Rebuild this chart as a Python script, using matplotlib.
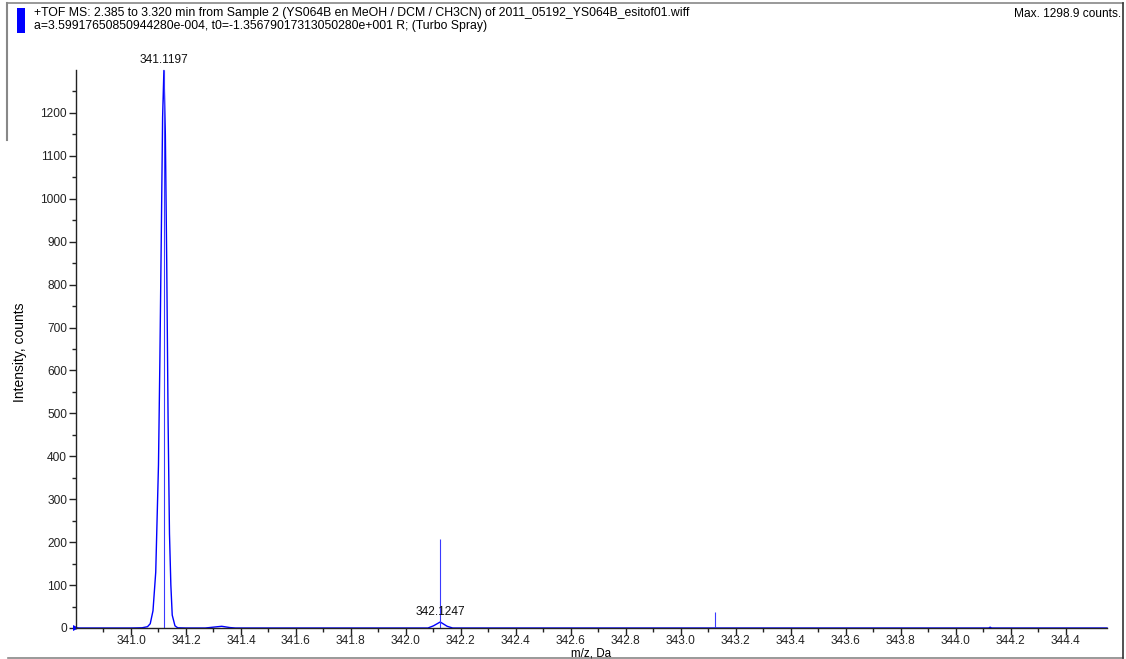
import matplotlib
matplotlib.use("Agg")
import matplotlib.pyplot as plt
from matplotlib.lines import Line2D
from matplotlib.patches import Rectangle

# ---- data ----
# profile spectrum (m/z, intensity)
profile_mz = [340.80, 341.00, 341.04, 341.06, 341.07, 341.08, 341.09, 341.10, 341.105,
              341.11, 341.115, 341.1197, 341.125, 341.13, 341.135, 341.14, 341.145,
              341.15, 341.16, 341.17, 341.20, 341.27, 341.30, 341.33, 341.36, 341.38,
              342.08, 342.10, 342.1247, 342.15, 342.17, 344.12, 344.125, 344.13, 344.55]
profile_int = [0, 0, 0.5, 3, 10, 40, 130, 380, 620,
               900, 1190, 1298.9, 1150, 850, 480, 220, 100,
               30, 5, 0.5, 0, 0, 2, 4, 1, 0,
               0, 5, 14, 4, 0, 0, 2, 0, 0]

# centroid sticks
stick_mz = [341.1197, 342.1247, 343.125, 344.125]
stick_int = [1298.9, 207, 37, 1]

# peak labels
label_mz = [341.1197, 342.1247]
label_int = [1298.9, 14]
label_txt = ["341.1197", "342.1247"]

xlim = (340.80, 344.55)
ylim = (0, 1300)
xticks_major = [341.0, 341.2, 341.4, 341.6, 341.8, 342.0, 342.2, 342.4, 342.6,
                342.8, 343.0, 343.2, 343.4, 343.6, 343.8, 344.0, 344.2, 344.4]
yticks_major = [0, 100, 200, 300, 400, 500, 600, 700, 800, 900, 1000, 1100, 1200]

title1 = "+TOF MS: 2.385 to 3.320 min from Sample 2 (YS064B en MeOH / DCM / CH3CN) of 2011_05192_YS064B_esitof01.wiff"
title2 = "a=3.59917650850944280e-004, t0=-1.35679017313050280e+001 R; (Turbo Spray)"
maxtxt = "Max. 1298.9 counts."

plt.rcParams['font.family'] = ['Liberation Sans', 'DejaVu Sans']

W, H = 1126, 659
fig = plt.figure(figsize=(W / 100, H / 100), dpi=100)
fig.patch.set_facecolor('white')

ax = fig.add_axes([76 / W, 1 - 628 / H, (1107 - 76) / W, (628 - 70) / H])
ax.set_xlim(*xlim)
ax.set_ylim(*ylim)

ax.plot(profile_mz, profile_int, color='#0000ff', lw=1.0, clip_on=False)
ax.vlines(stick_mz, 0, stick_int, color='#3a3aff', lw=0.8)

for m, v, t in zip(label_mz, label_int, label_txt):
    ax.annotate(t, (m, v), xytext=(0, 3), textcoords='offset points',
                ha='center', va='bottom', fontsize=8.6, color='#111111')

# marker at origin
ax.plot([xlim[0]], [0], marker='>', color='#0000ff', ms=5, clip_on=False,
        markeredgewidth=0)

for s in ['top', 'right']:
    ax.spines[s].set_visible(False)
for s in ['left', 'bottom']:
    ax.spines[s].set_linewidth(1.0)
    ax.spines[s].set_color('#222222')

ax.set_xticks(xticks_major)
ax.set_xticklabels([f"{v:.1f}" for v in xticks_major])
ax.set_xticks([340.9 + 0.2 * i for i in range(18)], minor=True)
ax.set_yticks(yticks_major)
ax.set_yticklabels([str(v) for v in yticks_major])
ax.set_yticks([50 + 100 * i for i in range(13)], minor=True)

ax.tick_params(axis='both', which='major', direction='out', length=5, width=1,
               labelsize=8.6, colors='#222222', pad=1.5)
ax.tick_params(axis='both', which='minor', direction='out', length=3, width=1,
               colors='#222222')
ax.tick_params(axis='x', which='major', pad=0)

# axis titles
fig.text(591 / W, 1 - 653 / H, "m/z, Da", fontsize=8.4, ha='center', va='center')
fig.text(20 / W, 1 - 352 / H, "Intensity, counts", fontsize=10, rotation=90,
         ha='center', va='center')

# header texts
fig.text(34 / W, 1 - 13 / H, title1, fontsize=8.85, ha='left', va='center')
fig.text(34 / W, 1 - 26 / H, title2, fontsize=8.85, ha='left', va='center')
fig.text(1121 / W, 1 - 14 / H, maxtxt, fontsize=8.6, ha='right', va='center')
fig.patches.append(Rectangle((17 / W, 1 - 33 / H), 8 / W, 25 / H,
                             transform=fig.transFigure, facecolor='#0000ff',
                             edgecolor='none'))

# frame lines
gray = '#888888'
fig.add_artist(Line2D([7 / W, 1123 / W], [1 - 3 / H, 1 - 3 / H], color=gray, lw=1.2))
fig.add_artist(Line2D([7 / W, 7 / W], [1 - 3 / H, 1 - 140 / H], color=gray, lw=1.5))
fig.add_artist(Line2D([8 / W, 1123 / W], [1 - 658 / H, 1 - 658 / H], color=gray, lw=1.2))
fig.add_artist(Line2D([1123 / W, 1123 / W], [1 - 3 / H, 1 - 658 / H], color='#333333', lw=1.2))

fig.savefig("out.png", dpi=100, facecolor='white')
